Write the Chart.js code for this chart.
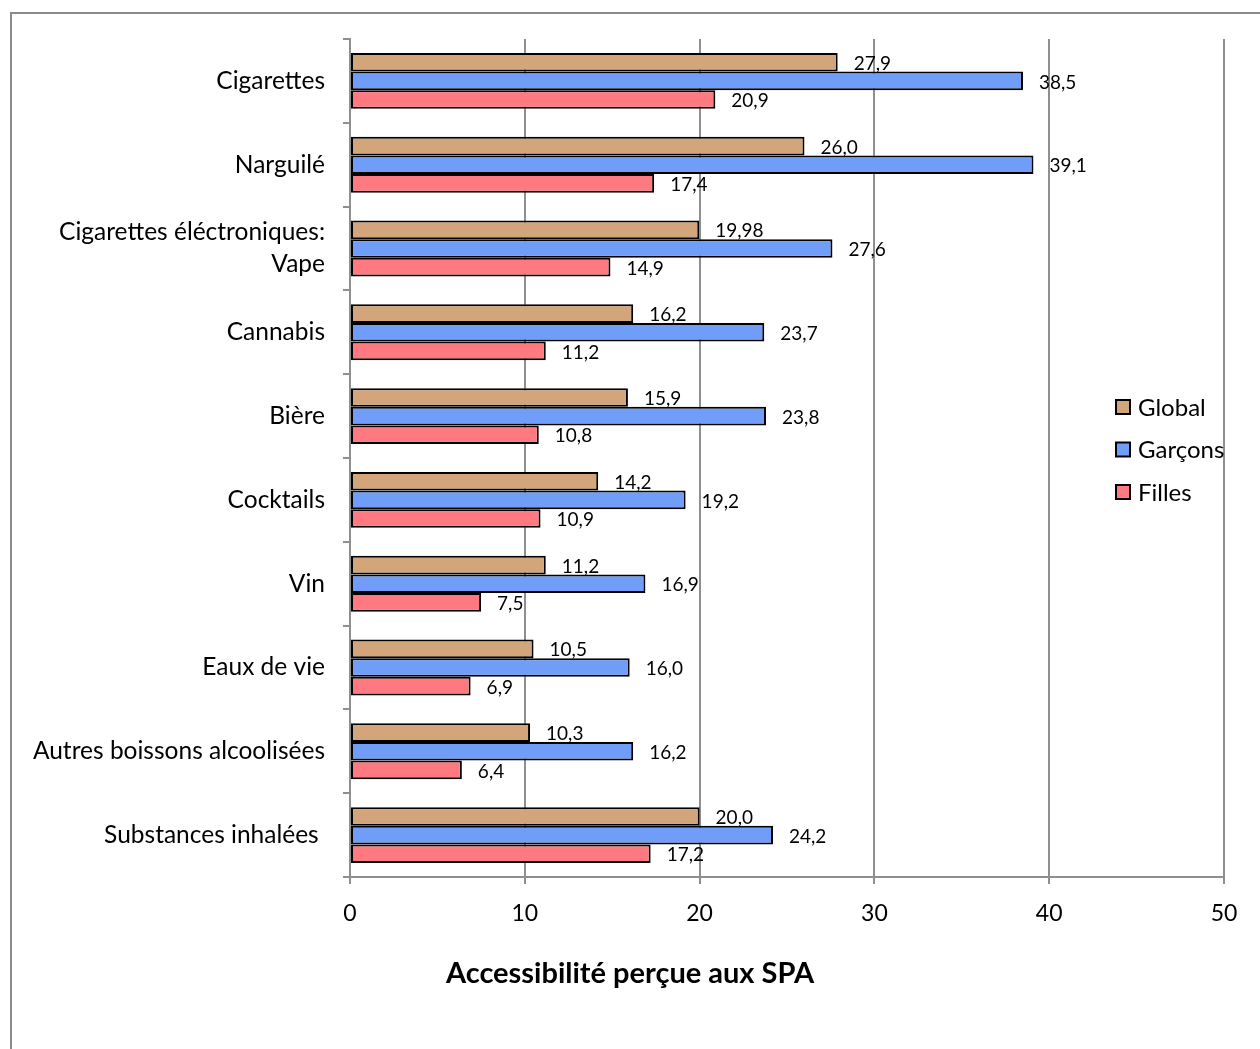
<!DOCTYPE html>
<html>
<head>
<meta charset="utf-8">
<script src="https://cdn.jsdelivr.net/npm/chart.js@4.4.1/dist/chart.umd.min.js"></script>
<style>
  html, body { margin: 0; padding: 0; background: #ffffff; }
  #wrap { position: relative; width: 1260px; height: 1049px; overflow: hidden; }
  canvas { display: block; }
</style>
</head>
<body>
<div id="wrap"><canvas id="chart" width="1260" height="1049"></canvas></div>
<script>
// Substances (top to bottom) and accessibility percentages per group
const categories = [
  'Cigarettes',
  'Narguilé',
  ['Cigarettes éléctroniques:', 'Vape'],
  'Cannabis',
  'Bière',
  'Cocktails',
  'Vin',
  'Eaux de vie',
  'Autres boissons alcoolisées',
  'Substances inhalées '
];
const globalValues  = [27.9, 26.0, 19.98, 16.2, 15.9, 14.2, 11.2, 10.5, 10.3, 20.0];
const garconsValues = [38.5, 39.1, 27.6, 23.7, 23.8, 19.2, 16.9, 16.0, 16.2, 24.2];
const fillesValues  = [20.9, 17.4, 14.9, 11.2, 10.8, 10.9, 7.5, 6.9, 6.4, 17.2];
const seriesNames = ['Global', 'Garçons', 'Filles'];
const xTicks = [0, 10, 20, 30, 40, 50];
const axisTitle = 'Accessibilité perçue aux SPA';

const FONT = 'Lato, "Open Sans", sans-serif';
const GRID = '#8f8f8f';

// French decimal format, keeping at least one decimal
function fmt(v) {
  const s = String(v);
  const dec = Math.max(1, (s.split('.')[1] || '').length);
  return v.toFixed(dec).replace('.', ',');
}

// Outer frame of the chart object
const framePlugin = {
  id: 'frame',
  beforeDraw(chart) {
    const ctx = chart.ctx;
    ctx.save();
    ctx.strokeStyle = '#8a8a8a';
    ctx.lineWidth = 2;
    ctx.strokeRect(11, 13, 1400, 1200);
    ctx.restore();
  }
};

// Value labels at the end of each bar
const valueLabels = {
  id: 'valueLabels',
  afterDatasetsDraw(chart) {
    const ctx = chart.ctx;
    ctx.save();
    ctx.font = '19px ' + FONT;
    ctx.fillStyle = '#000';
    ctx.textAlign = 'left';
    ctx.textBaseline = 'middle';
    chart.data.datasets.forEach((ds, i) => {
      const meta = chart.getDatasetMeta(i);
      meta.data.forEach((el, j) => {
        ctx.fillText(fmt(ds.data[j]), el.x + 16, el.y + 1.5);
      });
    });
    ctx.restore();
  }
};

// Legend on the right and bottom axis title
const sideLegend = {
  id: 'sideLegend',
  afterDraw(chart) {
    const ctx = chart.ctx;
    ctx.save();
    const x0 = 1116, y0 = 407, gap = 42.5, box = 14;
    ctx.font = '24px ' + FONT;
    ctx.textBaseline = 'middle';
    ctx.textAlign = 'left';
    chart.data.datasets.forEach((ds, i) => {
      const cy = y0 + i * gap;
      ctx.fillStyle = ds.backgroundColor;
      ctx.fillRect(x0, cy - box / 2, box, box);
      ctx.strokeStyle = '#000';
      ctx.lineWidth = 2;
      ctx.strokeRect(x0, cy - box / 2, box, box);
      ctx.fillStyle = '#000';
      ctx.fillText(ds.label, x0 + 22, cy + 1);
    });
    ctx.font = 'bold 29px ' + FONT;
    ctx.textAlign = 'center';
    ctx.fillText(axisTitle, 630, 974);
    ctx.restore();
  }
};

const colors = ['#D3A57B', '#6F9DF8', '#FF7A80'];
const values = [globalValues, garconsValues, fillesValues];

new Chart(document.getElementById('chart'), {
  type: 'bar',
  data: {
    labels: categories,
    datasets: seriesNames.map((name, i) => ({
      label: name,
      data: values[i],
      backgroundColor: colors[i],
      borderColor: '#000000',
      borderWidth: 2,
      borderSkipped: false,
      categoryPercentage: 0.667,
      barPercentage: 1.0
    }))
  },
  options: {
    indexAxis: 'y',
    responsive: false,
    animation: false,
    layout: { padding: { left: 0, right: 36, top: 39, bottom: 0 } },
    plugins: {
      legend: { display: false },
      tooltip: { enabled: false }
    },
    scales: {
      x: {
        min: 0,
        max: 50,
        afterBuildTicks(scale) { scale.ticks = xTicks.map(v => ({ value: v })); },
        afterFit(scale) { scale.height = 172; },
        grid: { color: GRID, lineWidth: 2, tickLength: 7, drawTicks: true },
        border: { color: GRID, width: 2 },
        ticks: { color: '#000', font: { family: FONT, size: 23 }, padding: 16 }
      },
      y: {
        afterFit(scale) { scale.width = 350; },
        grid: { display: true, drawOnChartArea: false, offset: true, color: GRID, lineWidth: 2, tickLength: 7 },
        border: { color: GRID, width: 2 },
        ticks: { color: '#000', font: { family: FONT, size: 24.5, lineHeight: 1.3 }, padding: 18, autoSkip: false }
      }
    }
  },
  plugins: [framePlugin, valueLabels, sideLegend]
});
</script>
</body>
</html>
